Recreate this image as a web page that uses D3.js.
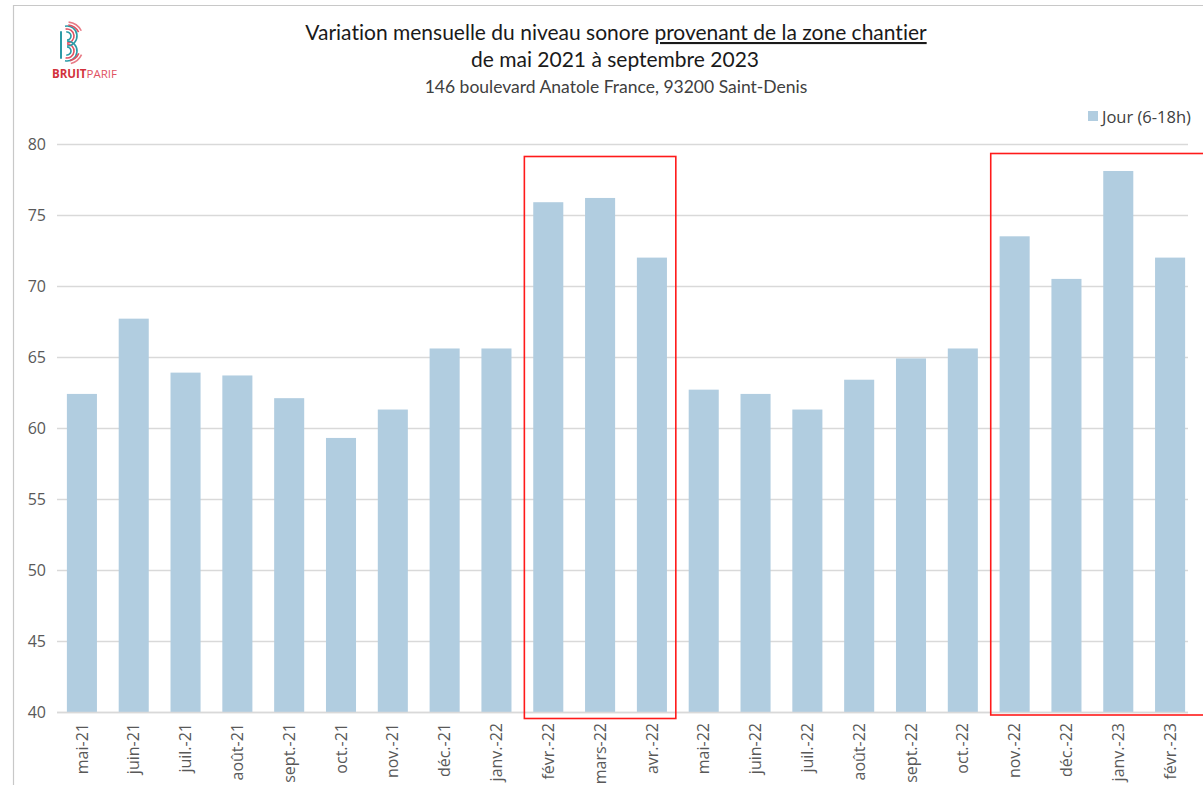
<!DOCTYPE html>
<html>
<head>
<meta charset="utf-8">
<script src="https://cdn.jsdelivr.net/npm/d3@7"></script>
<style>
  html, body { margin: 0; padding: 0; background: #fff; }
  svg { display: block; }
</style>
</head>
<body>
<svg id="chart" width="1203" height="785"></svg>
<script>
// ---- Data ----
const categories = ["mai-21","juin-21","juil.-21","août-21","sept.-21","oct.-21","nov.-21","déc.-21","janv.-22",
  "févr.-22","mars-22","avr.-22","mai-22","juin-22","juil.-22","août-22","sept.-22","oct.-22",
  "nov.-22","déc.-22","janv.-23","févr.-23"];
const jourValues = [62.4, 67.7, 63.9, 63.7, 62.1, 59.3, 61.3, 65.6, 65.6,
  75.9, 76.2, 72.0, 62.7, 62.4, 61.3, 63.4, 64.9, 65.6,
  73.5, 70.5, 78.1, 72.0];
const yTicks = [40, 45, 50, 55, 60, 65, 70, 75, 80];
const seriesName = "Jour (6-18h)";
const highlightGroups = [["févr.-22", "avr.-22"], ["nov.-22", null]];
const titleLine1a = "Variation mensuelle du niveau sonore ";
const titleLine1b = "provenant de la zone chantier";
const titleLine2 = "de mai 2021 à septembre 2023";
const subtitle = "146 boulevard Anatole France, 93200 Saint-Denis";

// ---- Layout ----
const W = 1203, H = 785;
const svg = d3.select("#chart");
const plot = { left: 56, right: 1196, top: 144, bottom: 712 };
const barColor = "#b1cde0";
const textColor = "#595959";

const x = d3.scaleBand().domain(categories).range([plot.left, plot.right])
  .paddingInner(0.42).paddingOuter(0.21);
const y = d3.scaleLinear().domain([40, 80]).range([plot.bottom, plot.top]);

// frame
svg.append("path").attr("d", `M13.5,${H} L13.5,5.5 L${W},5.5`)
  .attr("fill", "none").attr("stroke", "#c8c8c8").attr("stroke-width", 1.2);

// gridlines
const yAxis = d3.axisLeft(y).tickValues(yTicks).tickSize(-(1188 - 57)).tickPadding(11);
const gy = svg.append("g").attr("transform", `translate(57,0)`).call(yAxis);
gy.select(".domain").remove();
gy.selectAll(".tick line").attr("stroke", "#d9d9d9").attr("stroke-width", 1.3);
gy.selectAll(".tick text").attr("fill", textColor)
  .style("font-family", "'Open Sans', sans-serif").style("font-size", "16px");

// bars
svg.append("g").selectAll("rect").data(categories).join("rect")
  .attr("x", d => x(d))
  .attr("width", x.bandwidth())
  .attr("y", (d, i) => y(jourValues[i]))
  .attr("height", (d, i) => y(40) - y(jourValues[i]))
  .attr("fill", barColor);

// x axis
const xAxis = d3.axisBottom(x).tickSize(0).tickPadding(0);
const gx = svg.append("g").attr("transform", `translate(0,${plot.bottom})`).call(xAxis);
gx.select(".domain").attr("d", `M57,0.5H1188`).attr("stroke", "#d9d9d9").attr("stroke-width", 1.3);
gx.selectAll(".tick text")
  .attr("transform", "rotate(-90)")
  .attr("text-anchor", "end")
  .attr("x", -11).attr("y", 0).attr("dy", "0.35em")
  .attr("fill", textColor)
  .style("font-family", "'Open Sans', sans-serif").style("font-size", "16px");

// highlight rectangles
const step = x.step();
highlightGroups.forEach((g, gi) => {
  const x0 = x(g[0]) - step * 0.21 + 2;
  const x1 = g[1] ? x(g[1]) + x.bandwidth() + step * 0.21 - 2 : W + 10;
  const top = gi === 0 ? y(80) + 12.5 : y(80) + 9.5;
  const bot = gi === 0 ? y(40) + 6.5 : y(40) + 3;
  svg.append("rect").attr("x", x0).attr("y", top)
    .attr("width", x1 - x0).attr("height", bot - top)
    .attr("fill", "none").attr("stroke", "#ff1a1a").attr("stroke-width", 1.6);
});

// titles
const t1 = svg.append("text").attr("x", 616).attr("y", 40).attr("text-anchor", "middle")
  .style("font-family", "Lato, sans-serif").style("font-size", "21px").attr("fill", "#1a1a1a")
  .style("font-variant-ligatures", "none");
t1.append("tspan").text(titleLine1a);
t1.append("tspan").text(titleLine1b).style("text-decoration", "underline");
svg.append("text").attr("x", 615).attr("y", 67).attr("text-anchor", "middle")
  .style("font-family", "Lato, sans-serif").style("font-size", "21px").attr("fill", "#1a1a1a")
  .text(titleLine2);
svg.append("text").attr("x", 616).attr("y", 93).attr("text-anchor", "middle")
  .style("font-family", "Lato, sans-serif").style("font-size", "17.5px").attr("fill", "#404040")
  .text(subtitle);

// legend
svg.append("rect").attr("x", 1088).attr("y", 111).attr("width", 10).attr("height", 10).attr("fill", barColor);
svg.append("text").attr("x", 1102).attr("y", 123).style("font-family", "'Open Sans', sans-serif")
  .style("font-size", "16.5px").attr("fill", "#404040").text(seriesName);

// logo
const logo = svg.append("g").attr("fill", "none").attr("stroke-linecap", "round");
const arc = (cx, cy, r, a0, a1) => d3.arc()({ innerRadius: r, outerRadius: r, startAngle: a0, endAngle: a1 });
logo.append("line").attr("x1", 61).attr("y1", 32).attr("x2", 61).attr("y2", 58).attr("stroke", "#2b9aa6").attr("stroke-width", 2);
[[4, "#2b9aa6"], [7, "#e05262"], [10, "#2b9aa6"]].forEach(([r, c]) => {
  logo.append("path").attr("d", arc(0, 0, r, -0.2, Math.PI)).attr("transform", "translate(67,36)")
    .attr("stroke", c).attr("stroke-width", 1.6);
  logo.append("path").attr("d", arc(0, 0, r, 0, Math.PI + 0.2)).attr("transform", "translate(67,51)")
    .attr("stroke", c).attr("stroke-width", 1.6);
});
[[13, "#e05262"], [16, "#e87b86"]].forEach(([r, c]) => {
  logo.append("path").attr("d", arc(0, 0, r, 0.1, 1.1)).attr("transform", "translate(67,38)")
    .attr("stroke", c).attr("stroke-width", 1.6);
  logo.append("path").attr("d", arc(0, 0, r, 2.0, 2.9)).attr("transform", "translate(67,48)")
    .attr("stroke", c).attr("stroke-width", 1.6);
});
const lt = svg.append("text").attr("x", 52).attr("y", 78)
  .style("font-family", "'Liberation Sans Narrow', 'Open Sans', sans-serif").style("font-size", "11.5px");
lt.append("tspan").text("BRUIT").attr("fill", "#d2323c").style("font-weight", "700");
lt.append("tspan").text("PARIF").attr("fill", "#e05262");
</script>
</body>
</html>
